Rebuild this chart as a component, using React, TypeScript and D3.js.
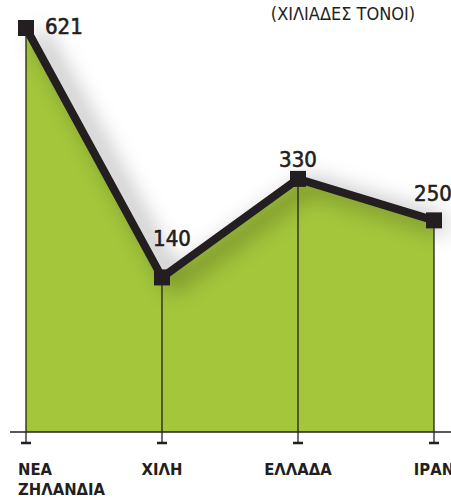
import React from "react";
import * as d3 from "d3";

const categories = ["ΝΕΑ ΖΗΛΑΝΔΙΑ", "ΧΙΛΗ", "ΕΛΛΑΔΑ", "ΙΡΑΝ"];
const values = [621, 140, 330, 250];
const unitLabel = "(ΧΙΛΙΑΔΕΣ ΤΟΝΟΙ)";

const W = 451;
const H = 498;
const FONT = "'DejaVu Sans Condensed', 'DejaVu Sans', sans-serif";

export default function App() {
  const x = d3.scalePoint<string>().domain(categories).range([26, 434]);
  const y = d3.scaleLinear().domain([0, 621]).range([350, 28]);
  const baseY = 432;

  const data = categories.map((c, i) => ({ c, v: values[i] }));
  const line = d3.line<{ c: string; v: number }>().x(d => x(d.c)!).y(d => y(d.v));
  const area = d3
    .area<{ c: string; v: number }>()
    .x(d => x(d.c)!)
    .y0(baseY)
    .y1(d => y(d.v));

  const labelOffsets = [
    { dx: 19, dy: 6, anchor: "start" },
    { dx: 10, dy: -31, anchor: "middle" },
    { dx: 0, dy: -12, anchor: "middle" },
    { dx: -1, dy: -19, anchor: "middle" },
  ];

  return (
    <svg width={W} height={H} style={{ position: "absolute", left: 0, top: 0 }}>
      <defs>
        <filter id="shadow" x="-30%" y="-30%" width="160%" height="160%">
          <feGaussianBlur stdDeviation="11" />
        </filter>
      </defs>
      <rect x={0} y={0} width={W} height={H} fill="#fff" />
      <path d={area(data)!} fill="#a3c63b" />
      <path
        d={line(data)!}
        fill="none"
        stroke="#000"
        strokeOpacity={0.3}
        strokeWidth={14}
        filter="url(#shadow)"
        transform="translate(12,6)"
      />
      {data.map(d => (
        <line
          key={"v" + d.c}
          x1={x(d.c)}
          x2={x(d.c)}
          y1={y(d.v)}
          y2={baseY + 11}
          stroke="#231f20"
          strokeWidth={1.3}
        />
      ))}
      {data.map(d => (
        <line
          key={"t" + d.c}
          x1={x(d.c)! - 5}
          x2={x(d.c)! + 5}
          y1={baseY + 11}
          y2={baseY + 11}
          stroke="#231f20"
          strokeWidth={2.5}
        />
      ))}
      <line x1={10} x2={W} y1={baseY} y2={baseY} stroke="#231f20" strokeWidth={1.5} />
      <path
        d={line(data)!}
        fill="none"
        stroke="#231f20"
        strokeWidth={8}
        strokeLinejoin="miter"
      />
      {data.map(d => (
        <rect
          key={"m" + d.c}
          x={x(d.c)! - 8}
          y={y(d.v) - 8}
          width={16}
          height={16}
          fill="#231f20"
        />
      ))}
      {data.map((d, i) => (
        <text
          key={"l" + d.c}
          x={x(d.c)! + labelOffsets[i].dx}
          y={y(d.v) + labelOffsets[i].dy}
          textAnchor={labelOffsets[i].anchor as any}
          fontFamily={FONT}
          fontSize={22}
          fill="#231f20"
          stroke="#231f20"
          strokeWidth={0.6}
        >
          {d.v}
        </text>
      ))}
      <text x={343} y={20} textAnchor="middle" fontFamily={FONT} fontSize={18} fill="#231f20">
        {unitLabel}
      </text>
      {data.map((d, i) => {
        const words = d.c.split(" ");
        const first = i === 0;
        return (
          <text
            key={"c" + d.c}
            x={first ? 18 : x(d.c)}
            y={475}
            textAnchor={first ? "start" : "middle"}
            fontFamily={FONT}
            fontWeight="bold"
            fontSize={16.5}
            fill="#231f20"
          >
            {words.map((w, j) => (
              <tspan key={j} x={first ? 18 : x(d.c)} dy={j === 0 ? 0 : 20}>
                {w}
              </tspan>
            ))}
          </text>
        );
      })}
    </svg>
  );
}
